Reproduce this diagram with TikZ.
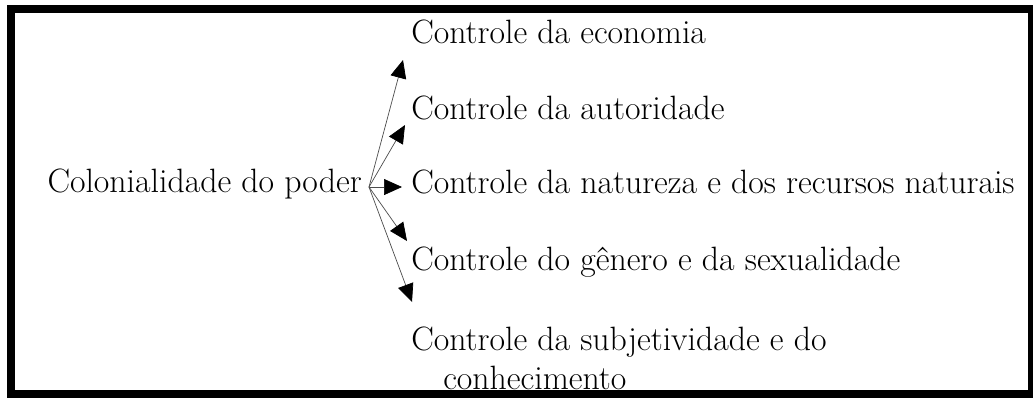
\documentclass[tikz,border=0pt]{standalone}
\usepackage{fontspec}
\usetikzlibrary{arrows.meta}
\tikzset{
  ctrl/.style={anchor=base west, inner sep=0pt, font=\fontsize{24}{28}\selectfont},
  seta/.style={-{Triangle[length=18*0.025cm, width=16*0.025cm, color=black]}, line width=0.5pt, draw=black!70}
}
\begin{document}
\begin{tikzpicture}[x=0.025cm, y=-0.025cm]
      \useasboundingbox (0,0) rectangle (1033,397);
      % moldura
      \draw[line width=8*0.025cm] (11,9) rectangle (1032,394);
      \node[ctrl, anchor=base east] (poder) at (362,192) {Colonialidade do poder};
      \node[ctrl] (economia) at (411,43) {Controle da economia};
      \node[ctrl] (autoridade) at (411,119) {Controle da autoridade};
      \node[ctrl] (natureza) at (411,193) {Controle da natureza e dos recursos naturais};
      \node[ctrl] (genero) at (411,270) {Controle do gênero e da sexualidade};
      \node[ctrl] (subjetividade) at (411,350) {Controle da subjetividade e do};
      \node[ctrl] (conhecimento) at (443,389) {conhecimento};
      \coordinate (centro) at (369,187);
      \coordinate (p1) at (403,60);
      \coordinate (p2) at (405,125);
      \coordinate (p3) at (402,187);
      \coordinate (p4) at (407,241);
      \coordinate (p5) at (412,302);
      \begin{scope}[seta]
        \draw (centro) to (p1);
        \draw (centro) to (p2);
        \draw (centro) to (p3);
        \draw (centro) to (p4);
        \draw (centro) to (p5);
      \end{scope}
    \end{tikzpicture}
\end{document}
